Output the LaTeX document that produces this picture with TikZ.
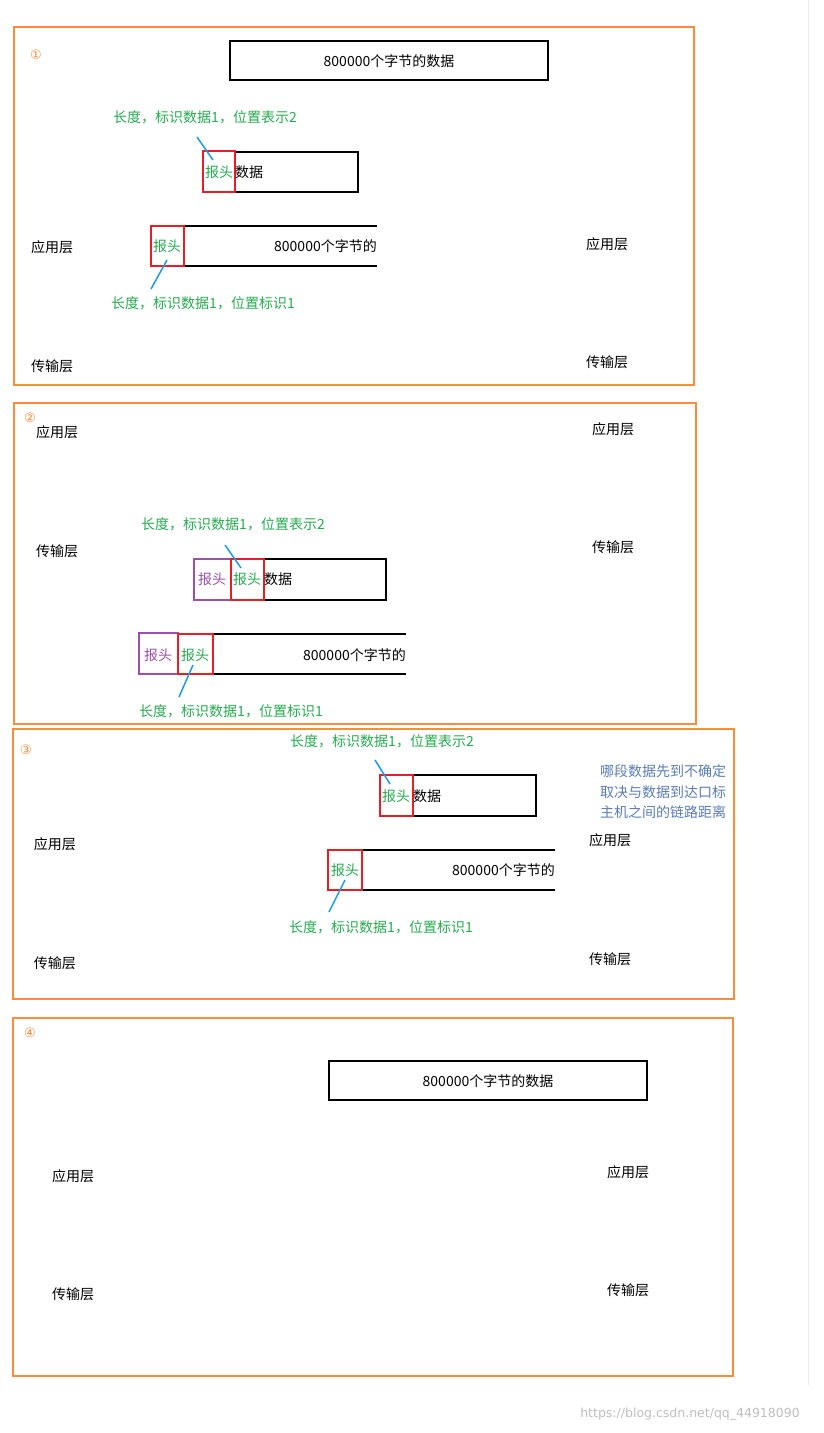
\documentclass[tikz,border=0pt]{standalone}
\usepackage{fontspec}
\setmainfont{Liberation Serif}
\newfontfamily\cjk{Noto Sans CJK SC}
\newfontfamily\dejavu{DejaVu Sans}
\definecolor{org}{RGB}{250,140,60}
\definecolor{grn}{RGB}{40,170,80}
\definecolor{rd}{RGB}{230,30,40}
\definecolor{pur}{RGB}{155,80,170}
\definecolor{bl}{RGB}{30,155,225}
\definecolor{bg}{RGB}{90,125,180}
\tikzset{
 panel/.style={draw=org,line width=2pt},
 box/.style={draw=black,line width=1.8pt},
 hdr/.style={draw=rd,line width=1.8pt},
 phdr/.style={draw=pur,line width=1.8pt},
 lnk/.style={draw=bl,line width=1.5pt},
 txt/.style={font=\cjk\fontsize{14}{16}\selectfont,inner sep=0pt},
 gtxt/.style={txt,text=grn},
 num/.style={font=\dejavu\fontsize{13}{15}\selectfont,text=org,inner sep=0pt},
}
\begin{document}
\begin{tikzpicture}[x=1pt,y=-1pt]
\useasboundingbox (0,0) rectangle (824,1433);
\fill[white] (0,0) rectangle (824,1433);
\draw[gray!15] (808,0) -- (808,1385);
% panel 1
\draw[panel] (14,27) rectangle (694,385);
\node[num] (n1) at (36,55) {①};
\draw[box] (230,41) rectangle (548,80);
\node[txt] (b1) at (389,61) {800000个字节的数据};
\node[gtxt] (g1) at (205,117) {长度，标识数据1，位置表示2};
\draw[box] (235,152) rectangle (358,192);
\draw[hdr] (203,151) rectangle (235,192);
\node[gtxt] (h1) at (219,172) {报头};
\node[txt,anchor=west] (d1) at (235,172) {数据};
\draw[lnk] (197,137) -- (213,160);
\draw[line width=1.8pt] (184,226) -- (377,226) (184,266) -- (377,266);
\draw[hdr] (151,226) rectangle (184,266);
\node[gtxt] (h2) at (167,246) {报头};
\node[txt,anchor=east] (d2) at (377,246) {800000个字节的};
\draw[lnk] (167,260) -- (151,289);
\node[gtxt] (g2) at (203,303) {长度，标识数据1，位置标识1};
\node[txt] at (52,247) {应用层};
\node[txt] at (607,244) {应用层};
\node[txt] at (52,366) {传输层};
\node[txt] at (607,362) {传输层};
% panel 2
\draw[panel] (14,403) rectangle (696,724);
\node[num] at (30,418) {②};
\node[txt] at (57,432) {应用层};
\node[txt] at (613,429) {应用层};
\node[txt] at (57,551) {传输层};
\node[txt] at (613,547) {传输层};
\node[gtxt] at (233,524) {长度，标识数据1，位置表示2};
\draw[box] (264,559) rectangle (386,600);
\draw[phdr] (194,559) rectangle (231,600);
\draw[hdr] (231,559) rectangle (264,600);
\node[txt,text=pur] at (212,579) {报头};
\node[gtxt] at (247,579) {报头};
\node[txt,anchor=west] at (264,579) {数据};
\draw[lnk] (225,545) -- (241,568);
\draw[line width=1.8pt] (213,634) -- (406,634) (213,674) -- (406,674);
\draw[phdr] (139,633) rectangle (178,674);
\draw[hdr] (178,634) rectangle (213,674);
\node[txt,text=pur] at (158,655) {报头};
\node[gtxt] at (195,655) {报头};
\node[txt,anchor=east] at (406,655) {800000个字节的};
\draw[lnk] (193,665) -- (179,697);
\node[gtxt] at (231,711) {长度，标识数据1，位置标识1};
% panel 3
\draw[panel] (13,729) rectangle (734,999);
\node[num] at (26,750) {③};
\node[gtxt] at (382,741) {长度，标识数据1，位置表示2};
\draw[box] (413,775) rectangle (536,816);
\draw[hdr] (380,775) rectangle (413,816);
\node[gtxt] at (396,796) {报头};
\node[txt,anchor=west] at (413,796) {数据};
\draw[lnk] (375,760) -- (390,784);
\draw[line width=1.8pt] (362,850) -- (555,850) (362,890) -- (555,890);
\draw[hdr] (328,850) rectangle (362,890);
\node[gtxt] at (345,870) {报头};
\node[txt,anchor=east] at (555,870) {800000个字节的};
\draw[lnk] (345,880) -- (329,912);
\node[gtxt] at (381,927) {长度，标识数据1，位置标识1};
\node[txt] at (55,844) {应用层};
\node[txt] at (610,840) {应用层};
\node[txt] at (55,963) {传输层};
\node[txt] at (610,959) {传输层};
\node[txt,text=bg,align=center,font=\cjk\fontsize{14}{20.5}\selectfont] at (663,792) {哪段数据先到不确定\\取决与数据到达口标\\主机之间的链路距离};
% panel 4
\draw[panel] (13,1018) rectangle (733,1376);
\node[num] at (30,1033) {④};
\draw[box] (329,1061) rectangle (647,1100);
\node[txt] at (488,1081) {800000个字节的数据};
\node[txt] at (73,1176) {应用层};
\node[txt] at (628,1172) {应用层};
\node[txt] at (73,1294) {传输层};
\node[txt] at (628,1290) {传输层};
\node[font=\dejavu\fontsize{12.5}{14}\selectfont,text=gray!50,inner sep=0pt] at (690,1414) {https://blog.csdn.net/qq\_44918090};
\end{tikzpicture}
\end{document}
